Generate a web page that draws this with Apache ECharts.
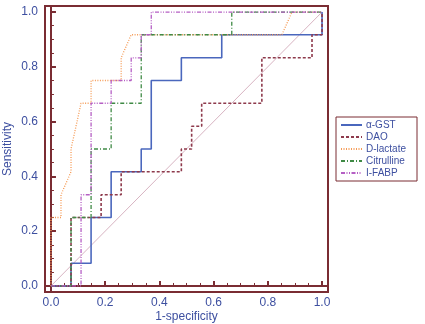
<!DOCTYPE html>
<html>
<head>
<meta charset="utf-8">
<script src="https://cdn.jsdelivr.net/npm/echarts@6/dist/echarts.min.js"></script>
<style>
html,body{margin:0;padding:0;background:#fff;}
#chart{width:425px;height:324px;}
</style>
</head>
<body>
<div id="chart"></div>
<script>
// ROC curves: 1-specificity (x) and sensitivity (y)
var seriesNames = ['α-GST', 'DAO', 'D-lactate', 'Citrulline', 'I-FABP'];

var gstX = [0, 0.074, 0.074, 0.148, 0.148, 0.222, 0.222, 0.333, 0.333, 0.370, 0.370, 0.481, 0.481, 0.630, 0.630, 1, 1];
var gstY = [0, 0, 0.083, 0.083, 0.25, 0.25, 0.417, 0.417, 0.5, 0.5, 0.75, 0.75, 0.833, 0.833, 0.917, 0.917, 1];

var daoX = [0, 0.074, 0.074, 0.185, 0.185, 0.259, 0.259, 0.481, 0.481, 0.519, 0.519, 0.556, 0.556, 0.778, 0.778, 0.963, 0.963, 1, 1];
var daoY = [0, 0, 0.25, 0.25, 0.333, 0.333, 0.417, 0.417, 0.5, 0.5, 0.583, 0.583, 0.667, 0.667, 0.833, 0.833, 0.917, 0.917, 1];

var lacX = [0, 0, 0.037, 0.037, 0.074, 0.074, 0.111, 0.148, 0.148, 0.259, 0.259, 0.296, 0.852, 0.889, 1];
var lacY = [0, 0.25, 0.25, 0.333, 0.417, 0.5, 0.667, 0.667, 0.75, 0.75, 0.833, 0.917, 0.917, 1, 1];

var citX = [0, 0.074, 0.074, 0.148, 0.148, 0.222, 0.222, 0.333, 0.333, 0.667, 0.667, 1];
var citY = [0, 0, 0.25, 0.25, 0.5, 0.5, 0.667, 0.667, 0.917, 0.917, 1, 1];

var fabpX = [0, 0.111, 0.111, 0.148, 0.148, 0.222, 0.222, 0.296, 0.296, 0.333, 0.333, 0.370, 0.370, 1];
var fabpY = [0, 0, 0.333, 0.333, 0.667, 0.667, 0.75, 0.75, 0.833, 0.833, 0.917, 0.917, 1, 1];

var refX = [0, 1];
var refY = [0, 1];

var majorTicks = [0, 0.2, 0.4, 0.6, 0.8, 1.0];
var minorTicks = [0.05, 0.1, 0.15, 0.25, 0.3, 0.35, 0.45, 0.5, 0.55, 0.65, 0.7, 0.75, 0.85, 0.9, 0.95];

function pairs(xs, ys) {
  var out = [];
  for (var i = 0; i < xs.length; i++) out.push([xs[i], ys[i]]);
  return out;
}

var frameColor = '#7a2c33';
var textColor = '#3d4fa0';
var font = 'Liberation Sans, Arial, Helvetica, sans-serif';
var axMin = -0.022, axMax = 1.022;

function majorAxis(isX) {
  return {
    type: 'value', min: axMin, max: axMax,
    position: isX ? 'bottom' : 'left',
    axisLine: { show: true, lineStyle: { color: frameColor, width: 2 } },
    axisTick: { show: true, inside: true, length: 5, customValues: majorTicks, lineStyle: { color: frameColor, width: 2 } },
    axisLabel: { show: true, customValues: majorTicks, color: textColor, fontSize: 12, fontFamily: font, margin: isX ? 5 : 7,
      formatter: function (v) { return Number(v).toFixed(1); } },
    splitLine: { show: false },
    name: isX ? '1-specificity' : 'Sensitivity',
    nameLocation: 'middle',
    nameMoveOverlap: false,
    nameGap: isX ? 19 : 31,
    nameTextStyle: { color: textColor, fontSize: 12, fontFamily: font }
  };
}
function minorAxis(isX) {
  return {
    type: 'value', min: axMin, max: axMax,
    position: isX ? 'bottom' : 'left',
    axisLine: { show: false },
    axisTick: { show: true, inside: true, length: 3, customValues: minorTicks, lineStyle: { color: frameColor, width: 1 } },
    axisLabel: { show: false },
    splitLine: { show: false }
  };
}

var chart = echarts.init(document.getElementById('chart'), null, { renderer: 'canvas' });
var option = {
  animation: false,
  backgroundColor: '#ffffff',
  grid: { left: 45, right: 97, top: 6, bottom: 32, show: true, borderColor: frameColor, borderWidth: 2,
    backgroundColor: 'transparent', containLabel: false, outerBoundsMode: 'none' },
  xAxis: [majorAxis(true), minorAxis(true)],
  yAxis: [majorAxis(false), minorAxis(false)],
  legend: {
    orient: 'vertical', left: 336, top: 117,
    data: seriesNames,
    borderColor: frameColor, borderWidth: 1, padding: [3, 11, 3, 4],
    itemGap: 2, itemWidth: 21, itemHeight: 10,
    itemStyle: { opacity: 0 },
    textStyle: { color: textColor, fontSize: 10, fontFamily: font, padding: [0, 0, 0, -1] }
  },
  series: [
    { type: 'line', name: 'ref', data: pairs(refX, refY), symbol: 'none', silent: true,
      lineStyle: { color: '#d8b4c2', width: 1 }, z: 1 },
    { type: 'line', name: seriesNames[0], data: pairs(gstX, gstY), symbol: 'none',
      itemStyle: { color: '#4a67bd' }, lineStyle: { color: '#4a67bd', width: 1.6, type: 'solid' }, z: 2 },
    { type: 'line', name: seriesNames[1], data: pairs(daoX, daoY), symbol: 'none',
      itemStyle: { color: '#8e3a4c' }, lineStyle: { color: '#8e3a4c', width: 1.6, type: [3, 2] }, z: 3 },
    { type: 'line', name: seriesNames[2], data: pairs(lacX, lacY), symbol: 'none',
      itemStyle: { color: '#f59a55' }, lineStyle: { color: '#f59a55', width: 1.3, type: [1, 1.5] }, z: 4 },
    { type: 'line', name: seriesNames[3], data: pairs(citX, citY), symbol: 'none',
      itemStyle: { color: '#3f8a45' }, lineStyle: { color: '#3f8a45', width: 1.3, type: [4, 2, 1, 2] }, z: 5 },
    { type: 'line', name: seriesNames[4], data: pairs(fabpX, fabpY), symbol: 'none',
      itemStyle: { color: '#b55fc4' }, lineStyle: { color: '#b55fc4', width: 1.3, type: [4, 1.5, 1, 1.5, 1, 1.5] }, z: 6 }
  ]
};
chart.setOption(option);
</script>
</body>
</html>
